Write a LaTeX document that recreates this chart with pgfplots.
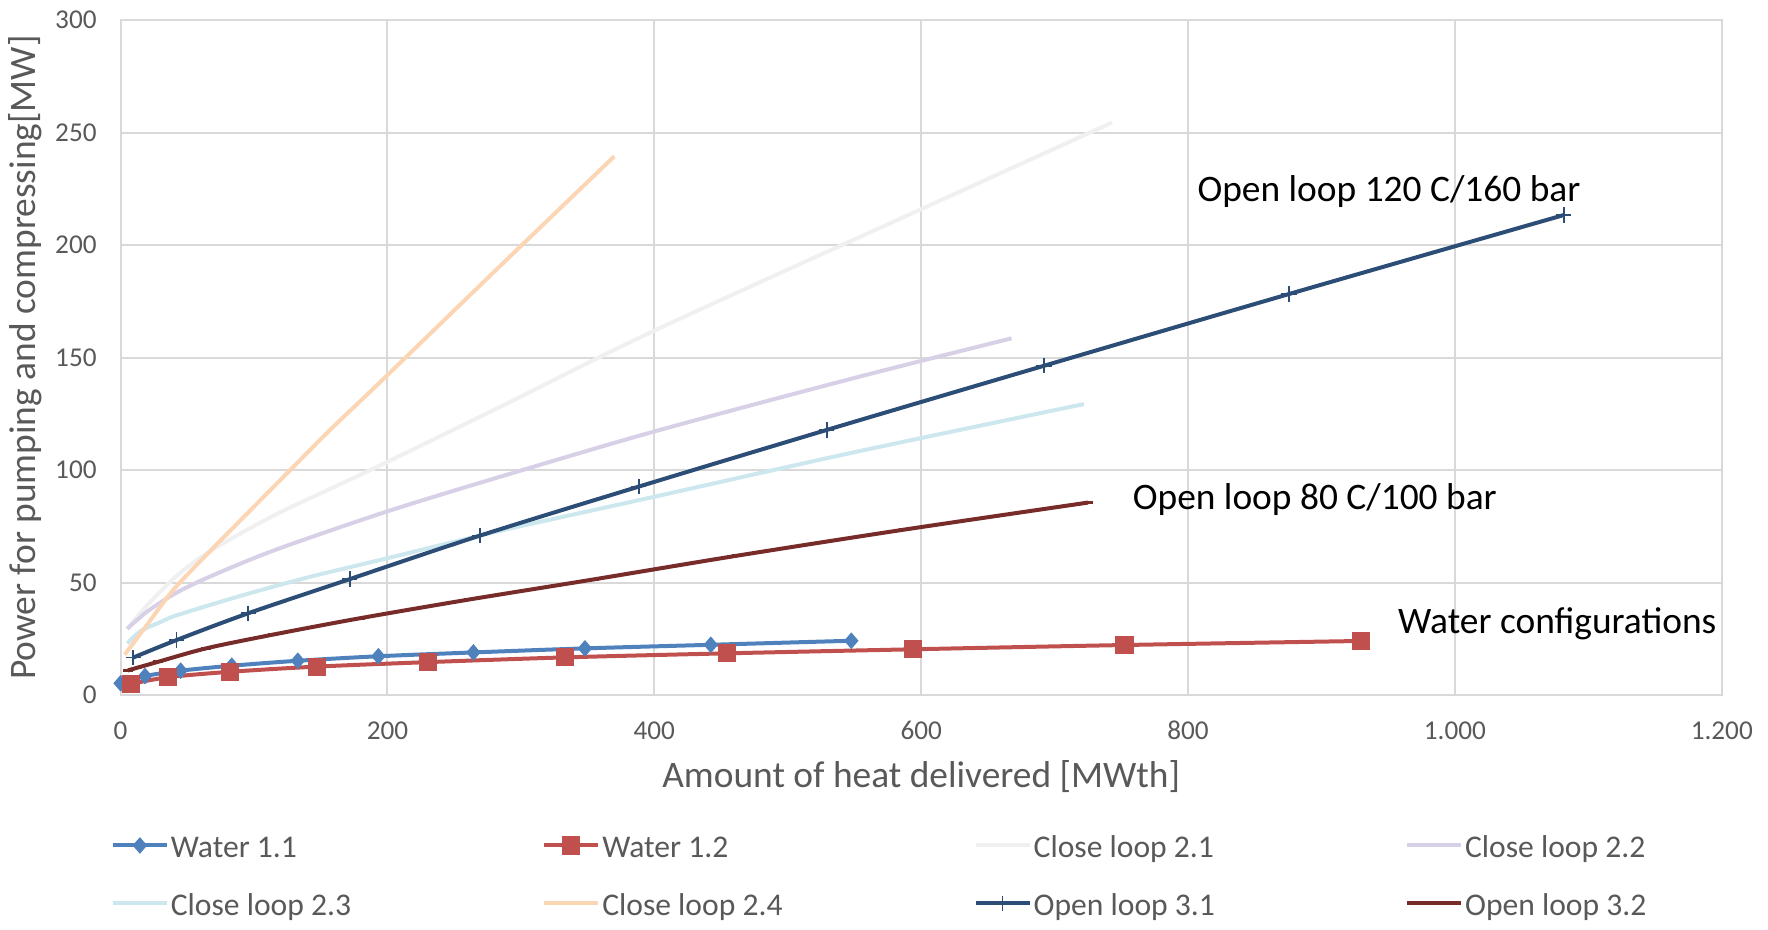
\documentclass[border=0pt]{standalone}
\usepackage{pgfplots}
\pgfplotsset{compat=1.18}
\usepackage{fontspec}
\setmainfont{Carlito}
\definecolor{cwa}{HTML}{4F81BD}
\definecolor{cwb}{HTML}{C0504D}
\definecolor{cca}{HTML}{F0F0F0}
\definecolor{ccb}{HTML}{D8D0E6}
\definecolor{ccc}{HTML}{CDE7EE}
\definecolor{ccd}{HTML}{FCD5B4}
\definecolor{coa}{HTML}{2C4D75}
\definecolor{cob}{HTML}{772C2A}
\definecolor{gridc}{HTML}{D9D9D9}
\definecolor{textgray}{HTML}{595959}
\newcommand{\leg}[1]{\makebox[186.7pt][l]{\hspace{1pt}\strut #1}}
\begin{document}
\begin{tikzpicture}
\path[use as bounding box] (0,0) rectangle (884pt,465pt);
\begin{axis}[
  at={(60.3pt,117.4pt)}, anchor=south west,
  scale only axis, width=800.6pt, height=337.5pt,
  xmin=0, xmax=1200, ymin=0, ymax=300,
  xtick={0,200,400,600,800,1000,1200},
  xticklabels={0,200,400,600,800,{1.000},{1.200}},
  ytick={0,50,100,150,200,250,300},
  /pgf/number format/assume math mode=true,
  grid=major, major grid style={draw=gridc, line width=1pt},
  axis line style={draw=gridc, line width=1pt},
  tick style={draw=none},
  clip=false,
  ticklabel style={font=\fontsize{13.6}{16}\selectfont, text=textgray},
  yticklabel style={anchor=east, inner sep=0pt, xshift=-11.8pt},
  xticklabel style={anchor=center, inner sep=0pt, yshift=-17.7pt},
  xlabel={Amount of heat delivered [MWth]},
  ylabel={Power for pumping and compressing[MW]},
  label style={font=\fontsize{18.7}{22}\selectfont, text=textgray},
  xlabel style={at={(axis description cs:0.5,-0.1212)}, anchor=center},
  ylabel style={at={(axis description cs:-0.0598,0.5)}, anchor=center},
  legend columns=4,
  legend cell align=left,
  legend style={at={(axis description cs:-0.00631,-0.2656)}, anchor=west,
    draw=none, fill=none, inner sep=0pt, column sep=0pt, row sep=14.2pt,
    nodes={inner sep=0pt, text=textgray, font=\fontsize{15.8}{19}\selectfont}},
  legend image code/.code={\draw[mark repeat=2,mark phase=2] plot coordinates {(0pt,0pt) (13.5pt,0pt) (27pt,0pt)};},
  every axis plot/.append style={line width=2pt, smooth},
]
\addplot[color=cwa, mark=diamond*, mark size=3.8pt, mark options={line width=0.5pt, xscale=1.15}] coordinates {
 (0,5.3) (18.3,8.5) (45,10.9) (83.3,13.1) (132.8,15.3) (193.2,17.3) (264.4,19) (348,20.8) (442.3,22.4) (547.6,24.2)};
\addlegendentry{\leg{Water 1.1}}
\addplot[color=cwb, mark=square*, mark size=4.3pt, mark options={line width=0.5pt}] coordinates {
 (7.5,5) (35.8,8) (82,10.4) (147,12.7) (230.6,14.7) (333,16.8) (454.2,18.6) (594,20.4) (752.4,22.3) (929.6,24.1)};
\addlegendentry{\leg{Water 1.2}}
\addplot[color=cca, no markers] coordinates {
 (5,29.5) (20,40) (42,53) (67,64) (117,80.5) (187,100) (284,128) (400,162) (600,216) (743,254.5)};
\addlegendentry{\leg{Close loop 2.1}}
\addplot[color=ccb, no markers] coordinates {
 (5,29.5) (20,37.2) (42,45.6) (70,53.5) (117,64.8) (199.4,81.6) (284,97) (400,117.2) (550,141) (667.7,158.6)};
\addlegendentry{\leg{Close loop 2.2}}
\addplot[color=ccc, no markers] coordinates {
 (5,23) (15,28.5) (30,32.5) (42,35.5) (92,44.5) (142,52.6) (199.4,60.8) (284,73) (400,88.2) (550,108) (722,129.4)};
\addlegendentry{\leg{Close loop 2.3}}
\addplot[color=ccd, no markers] coordinates {
 (3,18) (17,29) (30,39.5) (42,48.5) (67,64) (97,82) (127,100) (157,117.9) (196,140) (284,190.5) (370,239.5)};
\addlegendentry{\leg{Close loop 2.4}}
\addplot[color=coa, mark=+, mark size=3.8pt, mark options={line width=0.8pt}] coordinates {
 (9.4,16.7) (41.9,24.5) (95.6,36.4) (171.8,51.6) (269.2,70.9) (388.3,92.7) (529.3,117.9) (692,146.4) (875.7,178.3) (1081.6,213.4)};
\addlegendentry{\leg{Open loop 3.1}}
\addplot[color=cob, mark=-, mark size=2.5pt, mark options={line width=1.6pt}] coordinates {
 (5.4,11) (27.9,14.8) (64,20.8) (114,26.9) (179.4,34.2) (261,42.5) (355,51.5) (462,62) (587.4,73.6) (725,85.6)};
\addlegendentry{\leg{Open loop 3.2}}
\node[font=\fontsize{18.7}{22}\selectfont, text=black, anchor=center] at (axis cs:950.6,223.8) {Open loop 120 C/160 bar};
\node[font=\fontsize{18.7}{22}\selectfont, text=black, anchor=center] at (axis cs:895,87) {Open loop 80 C/100 bar};
\node[font=\fontsize{18.7}{22}\selectfont, text=black, anchor=center] at (axis cs:1076.7,31.8) {Water configurations};
\end{axis}
\end{tikzpicture}
\end{document}
